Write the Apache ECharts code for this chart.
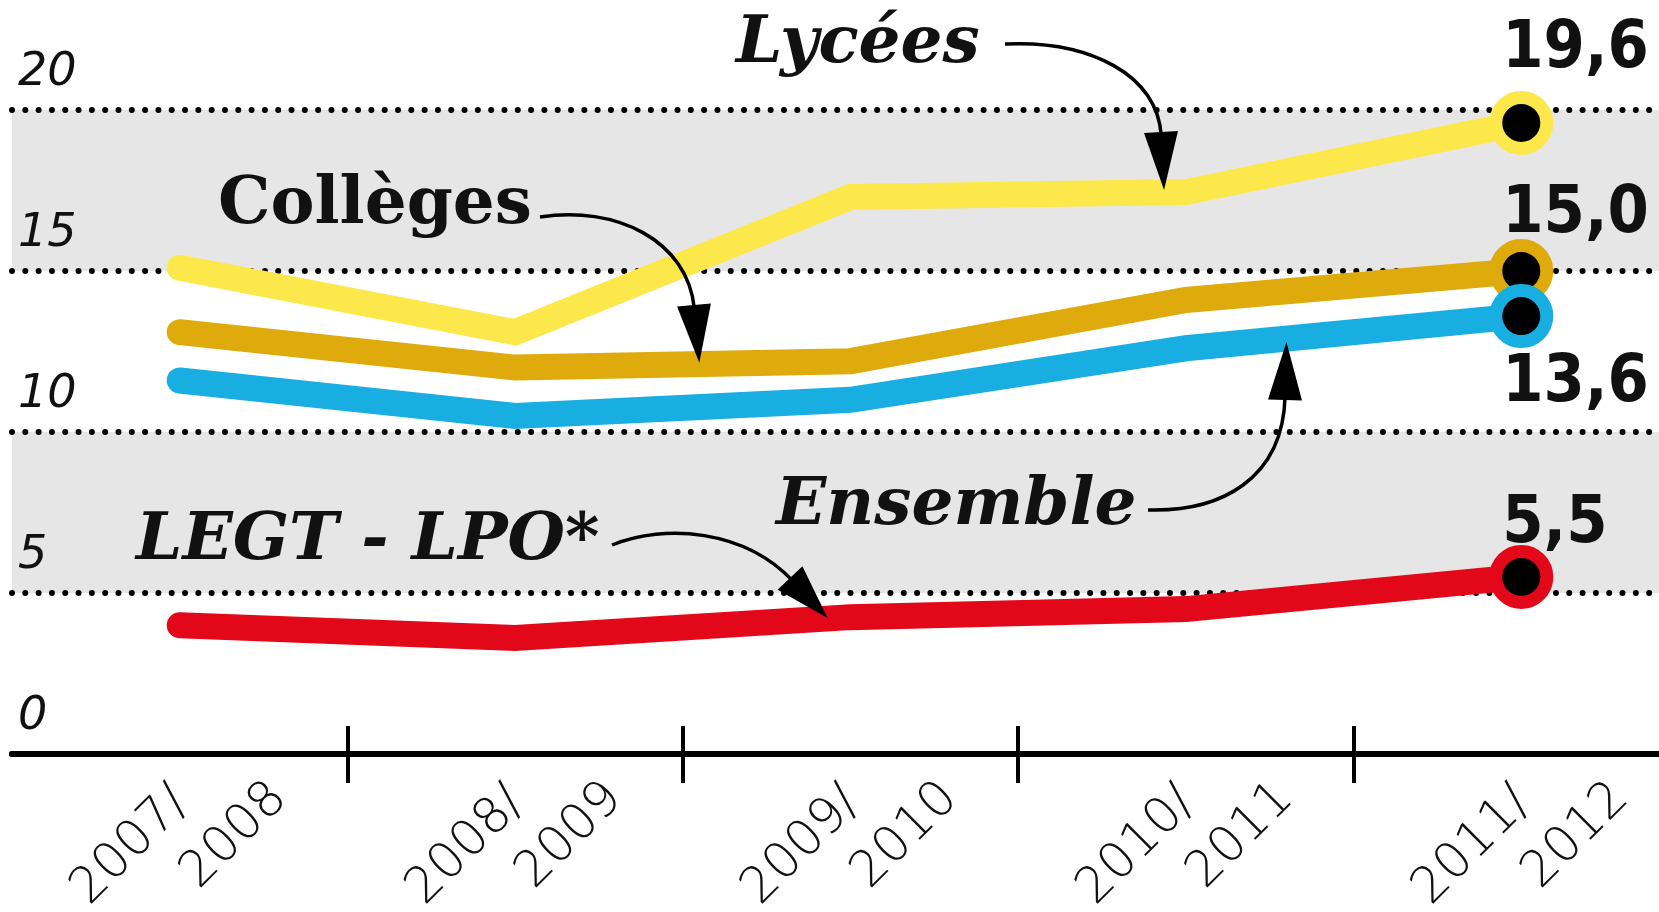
<!DOCTYPE html>
<html>
<head>
<meta charset="utf-8">
<script src="https://cdn.jsdelivr.net/npm/echarts@6/dist/echarts.min.js"></script>
<style>
html,body{margin:0;padding:0;background:#fff;}
#chart{width:1659px;height:912px;}
</style>
</head>
<body>
<div id="chart"></div>
<script>
// ---- data ----
const categories = ['2007/2008', '2008/2009', '2009/2010', '2010/2011', '2011/2012'];
const lycees   = [15.1, 13.1, 17.3, 17.45, 19.6];
const colleges = [13.1, 12.0, 12.2, 14.1, 15.0];
const ensemble = [11.6, 10.5, 11.0, 12.6, 13.6];
const legtLpo  = [4.0, 3.6, 4.25, 4.5, 5.5];
const yTicks = [0, 5, 10, 15, 20];

const chart = echarts.init(document.getElementById('chart'), null, {renderer: 'canvas'});
const last = categories.length - 1;
const fmt = v => v.toFixed(1).replace('.', ',');

function mkSeries(name, data, color, labelDy) {
  return {
    name, type: 'line', data, xAxisIndex: 0,
    symbol: (v, p) => (p.dataIndex === last ? 'circle' : 'none'),
    symbolSize: 51, showAllSymbol: true,
    lineStyle: {color, width: 26, cap: 'round', join: 'miter'},
    itemStyle: {color: '#000', borderColor: color, borderWidth: 13},
    label: {
      show: true, position: 'inside',
      formatter: p => (p.dataIndex === last ? fmt(p.value) : ''),
      align: 'left', verticalAlign: 'middle', offset: [-19, labelDy],
      fontFamily: '"DejaVu Sans Condensed", "DejaVu Sans", sans-serif',
      fontWeight: 'bold', fontSize: 66, color: '#111'
    },
    emphasis: {disabled: true}, silent: true
  };
}

const textFont = (style, size) => ({fontFamily: '"DejaVu Serif", serif', fontWeight: 'bold', fontStyle: style, fontSize: size});

function arrow(p0, c1, c2, p3, len, hw) {
  const dx = p3[0] - c2[0], dy = p3[1] - c2[1];
  const d = Math.hypot(dx, dy); const ux = dx / d, uy = dy / d;
  const tip = [p3[0] + ux * len, p3[1] + uy * len];
  const b1 = [p3[0] - uy * hw, p3[1] + ux * hw];
  const b2 = [p3[0] + uy * hw, p3[1] - ux * hw];
  return [
    {type: 'bezierCurve', z: 100, shape: {x1: p0[0], y1: p0[1], cpx1: c1[0], cpy1: c1[1], cpx2: c2[0], cpy2: c2[1], x2: p3[0] + ux * 4, y2: p3[1] + uy * 4},
      style: {stroke: '#000', lineWidth: 3.5, fill: null}},
    {type: 'polygon', z: 101, shape: {points: [b1, tip, b2]}, style: {fill: '#000'}}
  ];
}
function label(text, x, y, style, size) {
  return {type: 'text', z: 102, x, y, style: Object.assign({text, fill: '#111', align: 'left', verticalAlign: 'middle', textAlign: 'left', textVerticalAlign: 'middle'}, textFont(style, size))};
}

const graphics = [].concat(
  label('Lycées', 736, 45, 'italic', 66),
  label('Collèges', 218, 206, 'normal', 66),
  label('Ensemble', 776, 507, 'italic', 66),
  label('LEGT - LPO*', 136, 542, 'italic', 66),
  arrow([1005, 44], [1090, 40], [1158, 75], [1161, 132], 58, 17),
  arrow([540, 217], [615, 205], [688, 240], [694, 305], 58, 17),
  arrow([1148, 510], [1220, 512], [1283, 480], [1285, 400], 58, 17),
  arrow([612, 545], [665, 523], [745, 530], [790, 578], 55, 17)
);

const xLabelFont = {fontFamily: '"DejaVu Sans", sans-serif', fontWeight: 200, fontSize: 50, color: '#111', lineHeight: 66};

chart.setOption({
  animation: false,
  backgroundColor: '#fff',
  grid: {left: 12, width: 1677, top: 110, bottom: 158, containLabel: false, outerBoundsMode: 'none'},
  xAxis: [{
    type: 'category', data: categories, boundaryGap: true, position: 'bottom',
    axisLine: {show: true, lineStyle: {color: '#000', width: 6}},
    axisTick: {show: true, length: 29, interval: (i) => i !== 0, lineStyle: {color: '#000', width: 4}},
    axisLabel: {
      interval: 0, rotate: 45, align: 'center', verticalAlign: 'middle', margin: 90, hideOverlap: false,
      formatter: v => { const s = v.split('/'); return '{a|' + s[0] + '/}\n{b|' + s[1] + '}'; },
      rich: {
        a: Object.assign({padding: [0, 72, 0, 0]}, xLabelFont),
        b: Object.assign({padding: [0, 0, 0, 89]}, xLabelFont)
      }
    },
    splitLine: {show: false}
  }, {
    type: 'category', data: categories, boundaryGap: true, position: 'bottom',
    axisLine: {show: false},
    axisTick: {show: true, inside: true, length: 28, interval: (i) => i !== 0, lineStyle: {color: '#000', width: 4}},
    axisLabel: {show: false}
  }],
  yAxis: {
    type: 'value', min: yTicks[0], max: yTicks[yTicks.length - 1], interval: 5,
    axisLine: {show: false}, axisTick: {show: false},
    axisLabel: {
      inside: true, margin: 6, verticalAlign: 'bottom', padding: [0, 0, 14, 0], lineHeight: 46,
      fontFamily: '"DejaVu Sans", sans-serif', fontStyle: 'italic', fontWeight: 200, fontSize: 46, color: '#111'
    },
    splitLine: {show: true, lineStyle: {color: '#000', width: 6, type: [0.01, 13.3], cap: 'round'}},
    splitArea: {show: true, areaStyle: {color: ['rgba(255,255,255,0)', '#e6e6e6']}}
  },
  series: [
    mkSeries('Lycées', lycees, '#fde84b', -73),
    mkSeries('Collèges', colleges, '#dfab0c', -56),
    mkSeries('Ensemble', ensemble, '#19aee2', 68),
    mkSeries('LEGT - LPO*', legtLpo, '#e2081a', -52)
  ],
  graphic: graphics
});
</script>
</body>
</html>
